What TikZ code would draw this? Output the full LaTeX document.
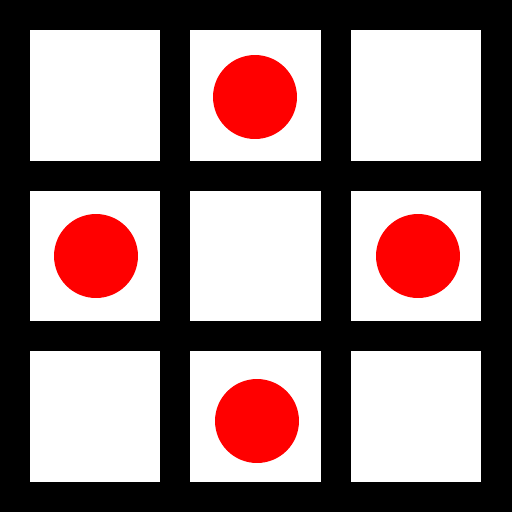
\documentclass[tikz,border=0pt]{standalone}
\usepackage{tikz}

\begin{document}
\begin{tikzpicture}[x=0.02cm, y=-0.02cm,
				cell/.style={fill=white, draw=none},
				dot/.style={circle, fill=red, draw=none, minimum size=1.68cm, inner sep=0pt}
			]
			\fill[black] (0, 0) rectangle (512, 512);
			\useasboundingbox (0, 0) rectangle (512, 512);

			\foreach \i in {0, 1, 2} {
				\foreach \j in {0, 1, 2} {
					\fill[cell] ({30 + 160.5*\i}, {30 + 160.5*\j}) rectangle ++(130.5, 130.5);
				}
			}

			\node[dot] (top) at (255, 97) {};
			\node[dot] (left) at (96, 256) {};
			\node[dot] (right) at (418, 256) {};
			\node[dot] (bottom) at (257, 421) {};
		\end{tikzpicture}
\end{document}
